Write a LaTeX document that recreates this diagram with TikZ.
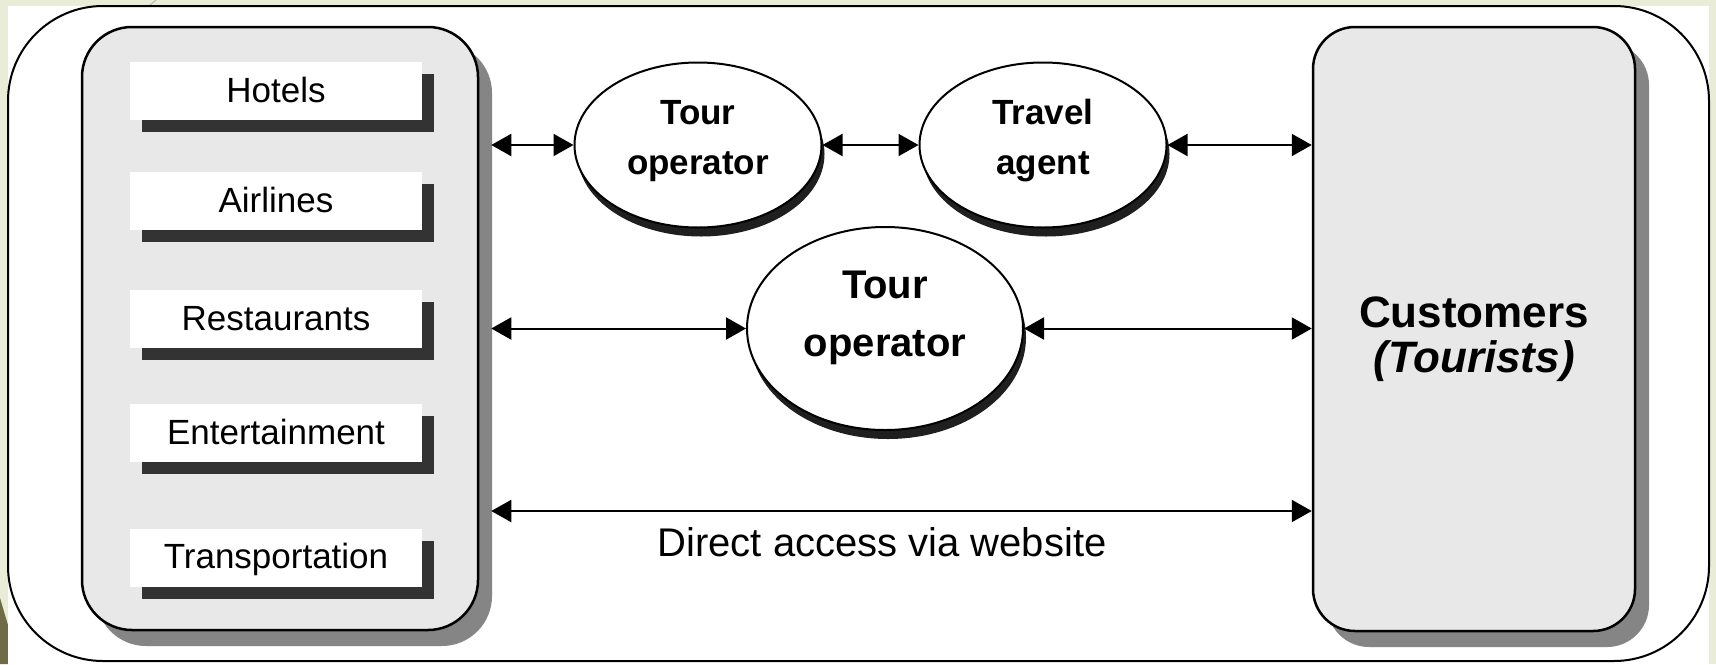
\documentclass[tikz,border=0pt]{standalone}
\usepackage{fontspec}
\setmainfont{Liberation Sans}
\usetikzlibrary{shapes.geometric,shadows,arrows.meta}
\definecolor{bggreen}{HTML}{E9EDD8}
\definecolor{olivedeco}{HTML}{6E6B45}
\definecolor{panelgray}{HTML}{E8E8E8}
\definecolor{panelshadow}{HTML}{858585}
\definecolor{boxshadow}{HTML}{333333}
\begin{document}
\begin{tikzpicture}[x=0.5pt,y=-0.5pt,
  panel/.style={draw, line width=1.25pt, fill=panelgray, inner sep=0pt,
    drop shadow={shadow xshift=7pt, shadow yshift=-8pt, fill=panelshadow, opacity=1}},
  item/.style={fill=white, minimum width=146pt, minimum height=29pt, inner sep=0pt,
    text height=12.5pt, text depth=1.5pt, font=\fontsize{17.5}{20}\selectfont,
    drop shadow={shadow xshift=6pt, shadow yshift=-6pt, fill=boxshadow, opacity=1}},
  oval/.style={ellipse, draw, line width=1pt, fill=white, inner sep=0pt,
    drop shadow={shadow xshift=1.5pt, shadow yshift=-4.5pt, fill=black!88, opacity=1}},
  ovaltext/.style={align=center, font=\bfseries\fontsize{17.5}{25}\selectfont},
  link/.style={<->, >={Triangle[length=10pt,width=11pt]}, line width=1pt}]
\useasboundingbox (0,0) rectangle (1716,664);
% slide background
\fill[bggreen] (0,0) rectangle (1716,664);
\fill[olivedeco] (0,598) -- (8,625) -- (8,664) -- (0,664) -- cycle;
\draw[bggreen!75!black, line width=0.4pt] (156,0) -- (149,6);
\fill[white] (8,6) rectangle (1709,664);
% outer frame
\draw[line width=1pt, rounded corners=47.5pt] (8,6) rectangle (1709,661);
% panels
\node[panel, rounded corners=25pt, minimum width=198pt, minimum height=301.5pt] (suppliers) at (280,328.5) {};
\node[panel, rounded corners=21pt, minimum width=161pt, minimum height=302pt] (customers) at (1474,329) {};
% supplier items
\node[item] (hotels) at (276,91) {Hotels};
\node[item] (airlines) at (276,201) {Airlines};
\node[item] (restaurants) at (276,319) {Restaurants};
\node[item] (entertainment) at (276,433) {Entertainment};
\node[item] (transportation) at (276,557.5) {Transportation};
% ellipses
\node[oval, minimum width=123.5pt, minimum height=82.5pt] (tourop) at (698,145) {};
\node[oval, minimum width=123.5pt, minimum height=82.5pt] (agent) at (1043,145) {};
\node[oval, minimum width=138pt, minimum height=101.5pt] (tourop2) at (885,328.5) {};
\node[ovaltext] (touroptext) at ([yshift=2pt]tourop.center) {Tour\\operator};
\node[ovaltext] (agenttext) at ([yshift=2pt]agent.center) {Travel\\agent};
\node[ovaltext, font=\bfseries\fontsize{20}{29}\selectfont] (tourop2text) at ([yshift=5.25pt]tourop2.center) {Tour\\operator};
% customers text
\node[align=center, font=\bfseries\fontsize{22}{22.5}\selectfont] (custtext) at ([yshift=-5pt]customers.center) {Customers\\\textit{(Tourists)}};
% direct access label
\node[anchor=base, font=\fontsize{20}{22}\selectfont] (direct) at (882,556) {Direct access via website};
% connectors
\coordinate (supedge) at ([xshift=6pt]suppliers.east);
\coordinate (webrow) at (900,511);
\draw[link] (supedge |- tourop.west) -- (tourop.west);
\draw[link] (tourop.east) -- (agent.west);
\draw[link] (agent.east) -- (customers.west |- agent.east);
\draw[link] (supedge |- tourop2.west) -- (tourop2.west);
\draw[link] (tourop2.east) -- (customers.west |- tourop2.east);
\draw[link] (supedge |- webrow) -- (customers.west |- webrow);
\end{tikzpicture}
\end{document}
